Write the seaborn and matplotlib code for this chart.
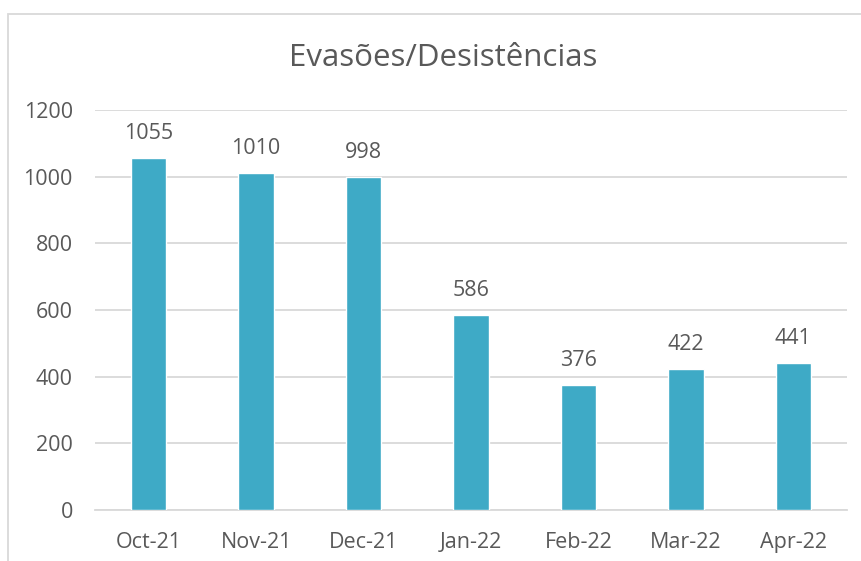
import matplotlib
matplotlib.use("Agg")
import matplotlib.pyplot as plt
import seaborn as sns
import numpy as np
import pandas as pd
from matplotlib.patches import Rectangle

months = ["Oct-21", "Nov-21", "Dec-21", "Jan-22", "Feb-22", "Mar-22", "Apr-22"]
values = [1055, 1010, 998, 586, 376, 422, 441]
yticks = [0, 200, 400, 600, 800, 1000, 1200]
title = "Evasões/Desistências"

df = pd.DataFrame({"month": months, "value": values})

sns.set_style("white")
plt.rcParams["font.family"] = ["Open Sans", "DejaVu Sans"]

grey_text = "#595959"
grid_col = "#D9D9D9"
bar_col = "#3EAAC6"

fig = plt.figure(figsize=(8.62, 5.61), dpi=100)
ax = fig.add_axes([95 / 862, 1 - 510 / 561, 752 / 862, 400 / 561])

sns.barplot(data=df, x="month", y="value", color=bar_col, width=0.33,
            saturation=1, ax=ax, zorder=3)

ax.set_ylim(0, 1200)
ax.set_xlim(-0.5, len(months) - 0.5)
ax.set_yticks(yticks)
ax.yaxis.grid(True, color=grid_col, linewidth=1.3, zorder=0)
ax.set_axisbelow(True)
ax.set_xlabel("")
ax.set_ylabel("")

for s in ["top", "right", "left"]:
    ax.spines[s].set_visible(False)
ax.spines["bottom"].set_color(grid_col)
ax.spines["bottom"].set_linewidth(1.3)

ax.tick_params(axis="x", which="major", length=0, labelsize=15.5,
               labelcolor=grey_text, pad=16)
ax.set_xticks(np.arange(-0.5, len(months)), minor=True)
ax.tick_params(axis="x", which="minor", length=6, width=1.3, color=grid_col)
ax.tick_params(axis="y", length=0, labelsize=15.5, labelcolor=grey_text, pad=16)

for i, v in enumerate(values):
    ax.annotate(str(v), (i, v), xytext=(0, 10), textcoords="offset points",
                ha="center", va="bottom", fontsize=15.5, color=grey_text)

fig.text(443 / 862, 1 - 58 / 561, title, ha="center", va="center",
         fontsize=22.5, color=grey_text)

# chart frame (cropped at right and bottom)
fig.patches.append(Rectangle((8 / 862, -0.5), 2, 1.5 - 14 / 561,
                             transform=fig.transFigure, fill=False,
                             edgecolor=grid_col, linewidth=1.3))

fig.savefig("out.png", dpi=100)
